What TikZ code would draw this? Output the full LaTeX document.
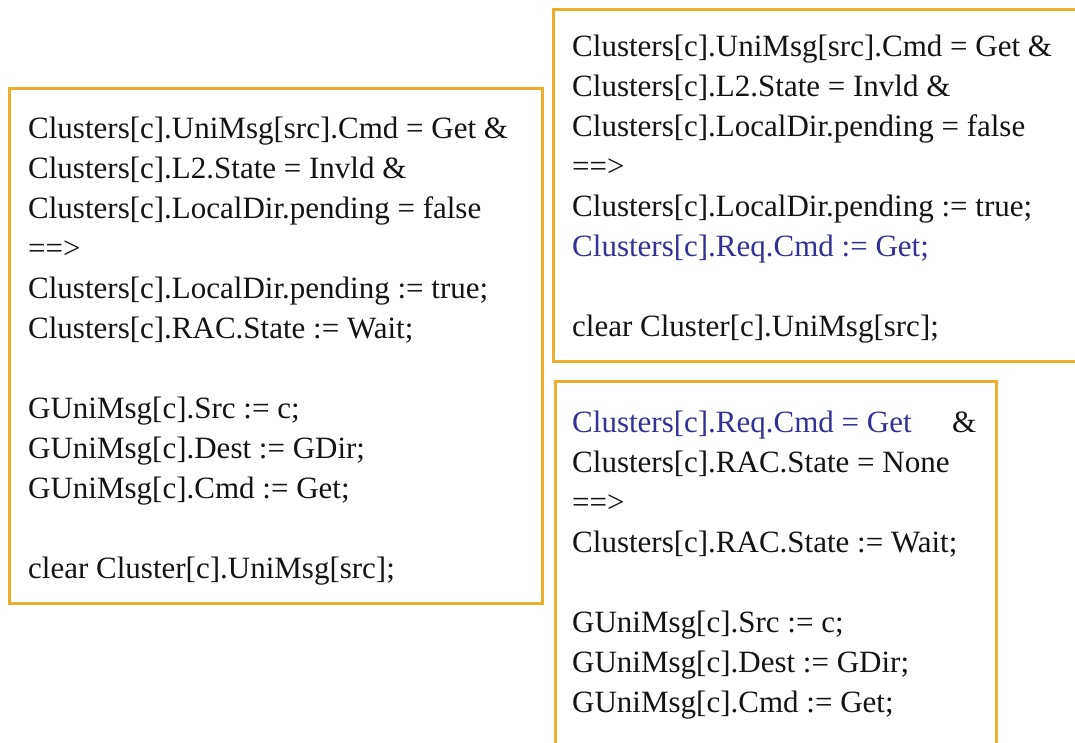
\documentclass[tikz,border=0pt]{standalone}
\usepackage{fontspec}
\setmainfont{Liberation Serif}
\definecolor{boxorange}{RGB}{236,174,44}
\definecolor{reqblue}{RGB}{50,50,150}
\definecolor{txt}{RGB}{20,20,20}
\tikzset{
  codebox/.style={draw=boxorange, line width=3pt},
  codeline/.style={anchor=base west, inner sep=0pt, font=\fontsize{31}{40}\selectfont, text=txt},
  blueline/.style={codeline, text=reqblue}
}
\begin{document}
\begin{tikzpicture}[x=1pt,y=-1pt]
\useasboundingbox (0,0) rectangle (1075,742);
\clip (0,0) rectangle (1075,742);
\fill[white] (0,0) rectangle (1075,742);
% boxes
\draw[codebox] (9,88) rectangle (542,603);
\draw[codebox] (553,9) rectangle (1090,361);
\draw[codebox] (555,381) rectangle (996,760);
% left box
\node[codeline] (l1) at (28,138) {Clusters[c].UniMsg[src].Cmd = Get \&};
\node[codeline] (l2) at (28,178) {Clusters[c].L2.State = Invld \&};
\node[codeline] (l3) at (28,218) {Clusters[c].LocalDir.pending = false};
\node[codeline] (l4) at (28,258) {==>};
\node[codeline] (l5) at (28,298) {Clusters[c].LocalDir.pending := true;};
\node[codeline] (l6) at (28,338) {Clusters[c].RAC.State := Wait;};
\node[codeline] (l7) at (28,418) {GUniMsg[c].Src := c;};
\node[codeline] (l8) at (28,458) {GUniMsg[c].Dest := GDir;};
\node[codeline] (l9) at (28,498) {GUniMsg[c].Cmd := Get;};
\node[codeline] (l10) at (28,578) {clear Cluster[c].UniMsg[src];};
% top right box
\node[codeline] (t1) at (572,56) {Clusters[c].UniMsg[src].Cmd = Get \&};
\node[codeline] (t2) at (572,96) {Clusters[c].L2.State = Invld \&};
\node[codeline] (t3) at (572,136) {Clusters[c].LocalDir.pending = false};
\node[codeline] (t4) at (572,176) {==>};
\node[codeline] (t5) at (572,216) {Clusters[c].LocalDir.pending := true;};
\node[blueline] (t6) at (572,256) {Clusters[c].Req.Cmd := Get;};
\node[codeline] (t7) at (572,336) {clear Cluster[c].UniMsg[src];};
% bottom right box
\node[blueline] (b1) at (572,432) {Clusters[c].Req.Cmd = Get};
\node[codeline] (b1a) at (952,432) {\&};
\node[codeline] (b2) at (572,472) {Clusters[c].RAC.State = None};
\node[codeline] (b3) at (572,512) {==>};
\node[codeline] (b4) at (572,552) {Clusters[c].RAC.State := Wait;};
\node[codeline] (b5) at (572,632) {GUniMsg[c].Src := c;};
\node[codeline] (b6) at (572,672) {GUniMsg[c].Dest := GDir;};
\node[codeline] (b7) at (572,712) {GUniMsg[c].Cmd := Get;};
\end{tikzpicture}
\end{document}
